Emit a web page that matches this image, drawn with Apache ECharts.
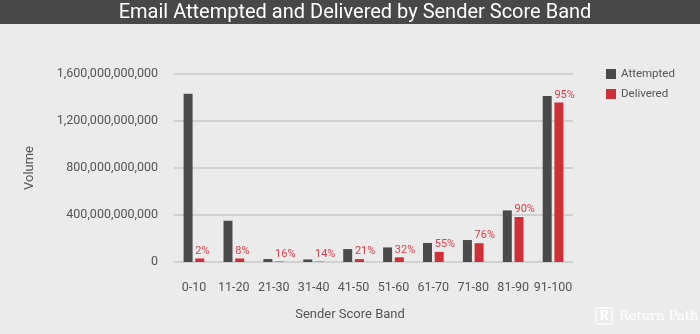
<!DOCTYPE html>
<html>
<head>
<meta charset="utf-8">
<script src="https://cdn.jsdelivr.net/npm/echarts@6/dist/echarts.min.js"></script>
<style>
html,body{margin:0;padding:0;background:#ebebeb;}
#c{width:700px;height:334px;}
</style>
</head>
<body>
<div id="c"></div>
<script>
var categories = ['0-10','11-20','21-30','31-40','41-50','51-60','61-70','71-80','81-90','91-100'];
var attempted = [1432e9, 351e9, 25e9, 22e9, 110e9, 124e9, 162e9, 187e9, 439e9, 1413e9];
var delivered = [30e9, 30e9, 4e9, 3e9, 25e9, 40e9, 86e9, 160e9, 383e9, 1358e9];
var pctLabels = ['2%','8%','16%','14%','21%','32%','55%','76%','90%','95%'];
var yTicks = [0, 400e9, 800e9, 1200e9, 1600e9];

var chart = echarts.init(document.getElementById('c'), null, {renderer:'canvas'});
function fmt(v){ return v.toLocaleString('en-US'); }
var font = 'Roboto, "Noto Sans", sans-serif';
chart.setOption({
  backgroundColor: '#ebebeb',
  animation: false,
  textStyle: {fontFamily: font},
  graphic: [
    {type:'rect', left:0, top:0, shape:{width:700, height:24}, style:{fill:'#484848'}},
    {type:'text', x:355, y:12.5, style:{text:'Email Attempted and Delivered by Sender Score Band', fill:'#ffffff', font:'20px Roboto, sans-serif', align:'center', verticalAlign:'middle'}},
    {type:'text', x:350, y:315, style:{text:'Sender Score Band', fill:'#555555', font:'13px ' + font, align:'center', verticalAlign:'middle'}},
    {type:'text', x:30, y:168, rotation:Math.PI/2, style:{text:'Volume', fill:'#555555', font:'13px ' + font, align:'center', verticalAlign:'middle'}},
    {type:'rect', x:596, y:308, shape:{width:16, height:16, r:2}, style:{fill:'none', stroke:'#ffffff', lineWidth:1.3}},
    {type:'text', x:604, y:316.5, style:{text:'R', fill:'#ffffff', font:'bold 12px "DejaVu Serif", serif', align:'center', verticalAlign:'middle'}},
    {type:'text', x:619, y:317, style:{text:'Return Path', fill:'#ffffff', font:'13px "DejaVu Serif", serif', align:'left', verticalAlign:'middle'}}
  ],
  legend: {
    orient: 'vertical', left: 601, top: 63, itemWidth: 10, itemHeight: 10, itemGap: 8,
    icon: 'rect',
    textStyle: {color:'#555555', fontSize: 11.5, fontFamily: font},
    data: ['Attempted','Delivered']
  },
  grid: {left:174, right:127, top:74, bottom:72, containLabel:false},
  xAxis: {
    type:'category', data: categories,
    axisLine:{show:false}, axisTick:{show:false},
    axisLabel:{color:'#555555', fontSize:12.5, margin:19, interval:0, fontFamily: font}
  },
  yAxis: {
    type:'value', min:0, max:1600e9, interval:400e9,
    axisLine:{show:false}, axisTick:{show:false},
    splitLine:{lineStyle:{color:'#c8c8c8', width:1.5}},
    axisLabel:{color:'#555555', fontSize:12.5, margin:16, fontFamily: font, formatter: function(v){ return yTicks.indexOf(v) >= 0 ? fmt(v) : ''; }}
  },
  series: [
    {name:'Attempted', type:'bar', data: attempted, barWidth:9, barGap:'30%', itemStyle:{color:'#4a4a4a'}},
    {name:'Delivered', type:'bar', data: delivered, barWidth:9, itemStyle:{color:'#d02f38'},
     label:{show:true, position:[0,-2], align:'left', verticalAlign:'bottom', color:'#d9414a', fontSize:11, fontFamily: font,
       formatter: function(p){ return pctLabels[p.dataIndex]; }}}
  ]
});
</script>
</body>
</html>
